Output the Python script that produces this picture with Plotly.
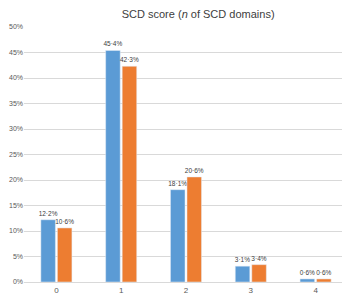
import plotly.graph_objects as go

categories = ["0", "1", "2", "3", "4"]
series_a = [12.2, 45.4, 18.1, 3.1, 0.6]
series_b = [10.6, 42.3, 20.6, 3.4, 0.6]
tick_vals = [0, 5, 10, 15, 20, 25, 30, 35, 40, 45, 50]
tick_text = [f"{v}%" for v in tick_vals]

def lab(v):
    return f"{v:.1f}%".replace(".", "·")

fig = go.Figure()
fig.add_trace(go.Bar(x=categories, y=series_a, marker_color="#5b9bd5",
                     text=[lab(v) for v in series_a], textposition="outside",
                     constraintext="none",
                     textfont=dict(size=6.5, color="#404040"), cliponaxis=False))
fig.add_trace(go.Bar(x=categories, y=series_b, marker_color="#ed7d31",
                     text=[lab(v) for v in series_b], textposition="outside",
                     constraintext="none",
                     textfont=dict(size=6.5, color="#404040"), cliponaxis=False))

fig.update_layout(
    width=342, height=291,
    margin=dict(l=16, r=2, t=19, b=17),
    paper_bgcolor="white", plot_bgcolor="white",
    showlegend=False,
    barmode="group", bargap=0.49, bargroupgap=0.12,
    font=dict(family="Liberation Sans, Arial, sans-serif", color="#595959"),
    title=dict(text="SCD score (<i>n</i> of SCD domains)", x=0.556, xanchor="center",
               y=0.993, yanchor="top", pad=dict(t=0, b=0),
               font=dict(size=11, family="Liberation Sans, sans-serif",
                         color="#404040")),
    xaxis=dict(showgrid=False, showline=True, linecolor="#d9d9d9", ticks="",
               tickfont=dict(size=8, color="#595959")),
    yaxis=dict(range=[0, 50], tickvals=tick_vals, ticktext=tick_text,
               showgrid=True, gridcolor="#d9d9d9", zeroline=False, showline=False,
               tickfont=dict(size=7, color="#595959")),
)
fig.write_html("out.html")
